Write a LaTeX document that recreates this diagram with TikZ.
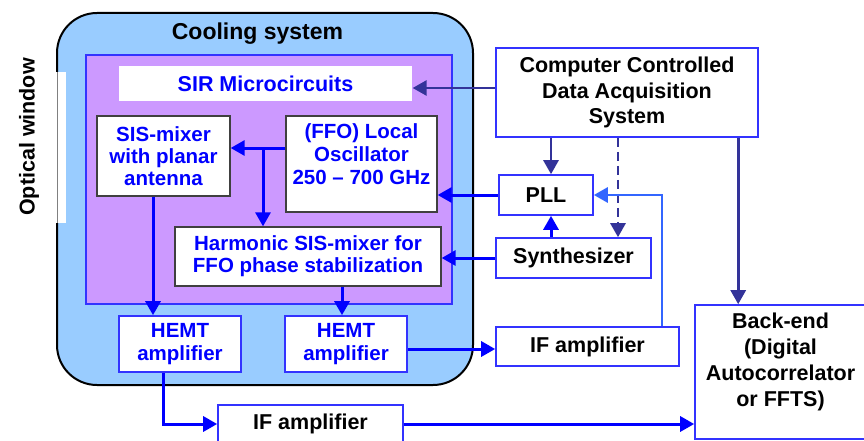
\documentclass[tikz,border=0pt]{standalone}
\usepackage{fontspec}
\setmainfont{Liberation Sans}
\usepackage{xcolor}
\usepackage{tikz}
\usetikzlibrary{arrows.meta}

\definecolor{coolblue}{HTML}{99CCFF}
\definecolor{chipviolet}{HTML}{CC99FF}
\definecolor{boxblue}{HTML}{3333FF}
\definecolor{ctrlblue}{HTML}{333399}
\definecolor{fbblue}{HTML}{3366FF}
\definecolor{boxgray}{HTML}{404040}

\begin{document}
\begin{tikzpicture}[x=1pt, y=-1pt,
        inbox/.style={draw=boxgray, line width=1.3pt, fill=white, inner sep=0pt, align=center,
            text=blue, font=\fontsize{20.5}{22}\selectfont\bfseries},
        hemtbox/.style={draw=boxblue, line width=1.6pt, fill=white, inner sep=0pt, align=center,
            text=blue, font=\fontsize{20.5}{22.5}\selectfont\bfseries},
        outbox/.style={draw=boxblue, line width=1.6pt, fill=white, inner sep=0pt, align=center,
            font=\fontsize{21.5}{25.5}\selectfont\bfseries},
        ffotext/.style={anchor=north, yshift=-8pt, inner sep=0pt, align=center,
            text=blue, font=\fontsize{20.5}{23}\selectfont\bfseries},
        bktext/.style={anchor=north, yshift=-9pt, inner sep=0pt, align=center,
            font=\fontsize{21.5}{26}\selectfont\bfseries},
        sig/.style={blue, line width=3pt, -{Triangle[length=14pt,width=15pt]}},
        ctrl/.style={ctrlblue, line width=2.8pt, -{Triangle[length=14pt,width=15pt]}},
        fb/.style={fbblue, line width=2.8pt, -{Triangle[length=14pt,width=15pt]}}]
        \useasboundingbox (0,0) rectangle (864,441);

        % Draw the cooling system
        \draw[line width=2pt, fill=coolblue, rounded corners=40pt] (57,13) rectangle (473,385);
        \node[font=\fontsize{23}{26}\selectfont\bfseries] (coolname) at (257.5,33.5) {Cooling system};

        % Draw the optical window
        \fill[white] (55.5,72) rectangle (66,223);
        \draw[gray, line width=0.8pt] (57,72) -- (57,223);
        \node[rotate=90, font=\fontsize{21.5}{24}\selectfont\bfseries] (optwin) at (29,137) {Optical window};

        % Draw the chip area
        \draw[boxblue, line width=1.6pt, fill=chipviolet] (86,55) rectangle (452,304);

        % Draw the blocks on the chip
        \node[inbox, draw=none, minimum width=293pt, minimum height=35pt,
            font=\fontsize{21.5}{24}\selectfont\bfseries] (sir) at (265.5,83.5) {SIR Microcircuits};
        \node[inbox, minimum width=133pt, minimum height=80pt] (sismix) at (163.5,156) {SIS-mixer\\with planar\\antenna};
        \node[inbox, minimum width=151pt, minimum height=96pt,
            label={[ffotext]north:(FFO) Local\\Oscillator\\250 -- 700 GHz}] (ffo) at (361.5,164) {};
        \node[inbox, minimum width=266pt, minimum height=59pt] (harm) at (308,256.5) {Harmonic SIS-mixer for\\FFO phase stabilization};
        \node[hemtbox, minimum width=122pt, minimum height=56pt] (hemtA) at (180,344) {HEMT\\amplifier};
        \node[hemtbox, minimum width=122pt, minimum height=56pt] (hemtB) at (346,344) {HEMT\\amplifier};

        % Draw the room temperature blocks
        \node[outbox, minimum width=185pt, minimum height=38pt] (ifA) at (310.5,424) {IF amplifier};
        \node[outbox, minimum width=183pt, minimum height=39pt] (ifB) at (587.5,346.5) {IF amplifier};
        \node[outbox, minimum width=262pt, minimum height=89pt] (comp) at (627,92.5) {Computer Controlled\\Data Acquisition\\System};
        \node[outbox, minimum width=94pt, minimum height=40pt] (pll) at (546,195) {PLL};
        \node[outbox, minimum width=155pt, minimum height=40pt] (synth) at (573.5,258) {Synthesizer};
        \node[outbox, minimum width=171pt, minimum height=134pt,
            label={[bktext]north:Back-end\\(Digital\\Autocorrelator\\or FFTS)}] (backend) at (780.5,372) {};

        % Draw the control lines
        \draw[ctrl] ([yshift=4.5pt]comp.west) -- ([yshift=4.5pt]comp.west -| sir.east);
        \draw[ctrl] ([xshift=5pt]pll.north |- comp.south) -- ([xshift=5pt]pll.north);
        \draw[ctrl, dash pattern=on 9pt off 5pt] ([xshift=44.5pt]synth.north |- comp.south) -- ([xshift=44.5pt]synth.north);
        \draw[ctrl] ([xshift=44pt]backend.north west |- comp.south) -- ([xshift=44pt]backend.north west);

        % Draw the LO lines
        \coordinate (lojunc) at (263,148);
        \draw[sig] (ffo.west |- lojunc) -- (lojunc -| sismix.east);
        \draw[sig] (lojunc) -- (lojunc |- harm.north);
        \draw[sig] (pll.west) -- (pll.west -| ffo.east);
        \draw[sig] (synth.west) -- (synth.west -| harm.east);
        \draw[sig] ([xshift=5pt]pll.south |- synth.north) -- ([xshift=5pt]pll.south);
        \draw[fb] ([xshift=74.5pt]ifB.north) |- (pll.east);

        % Draw the IF lines
        \draw[sig] ([xshift=-10.5pt]sismix.south) -- ([xshift=-10.5pt]sismix.south |- hemtA.north);
        \draw[sig] ([xshift=34pt]harm.south) -- ([xshift=34pt]harm.south |- hemtB.north);
        \draw[sig] ([xshift=-17pt]hemtA.south) |- (ifA.west);
        \draw[sig] ([yshift=-5pt]hemtB.east) -- ([yshift=-5pt]hemtB.east -| ifB.west);
        \draw[sig] (ifA.east) -- (ifA.east -| backend.west);

    \end{tikzpicture}
\end{document}
